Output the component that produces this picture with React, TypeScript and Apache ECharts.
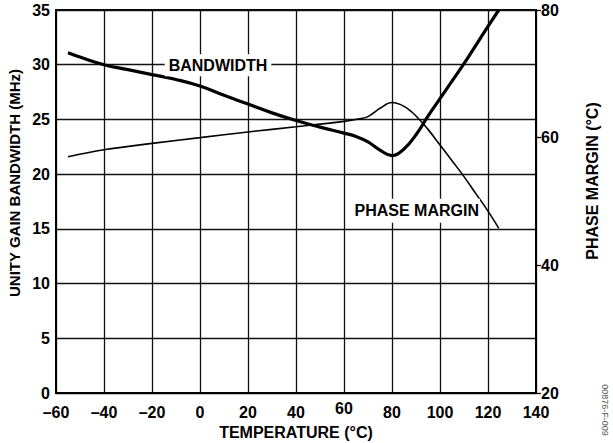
import React, { useEffect, useRef } from "react";
import * as echarts from "echarts";

const bwTemp = [-55, -50, -40, -30, -20, -10, 0, 10, 20, 30, 40, 50, 60, 65, 70, 75, 80, 85, 90, 95, 100, 105, 110, 115, 120, 124.5];
const bwValues = [31.1, 30.7, 30.0, 29.55, 29.1, 28.65, 28.05, 27.2, 26.4, 25.6, 24.9, 24.3, 23.75, 23.45, 22.95, 22.2, 21.7, 22.3, 23.6, 25.3, 26.9, 28.5, 30.1, 31.8, 33.5, 35.0];

const pmTemp = [-55, -40, -20, 0, 20, 40, 60, 65, 70, 75, 80, 85, 90, 95, 100, 105, 110, 115, 120, 124.5];
const pmValues = [57.0, 58.1, 59.1, 60.0, 60.9, 61.7, 62.55, 62.85, 63.3, 64.6, 65.5, 64.9, 63.4, 61.3, 58.85, 56.4, 53.9, 51.2, 48.5, 45.8];

const xTicks = { min: -60, max: 140, step: 20 };
const leftTicks = { min: 0, max: 35, step: 5 };
const rightTicks = { min: 20, max: 80, step: 20 };

const labelBandwidth = { text: "BANDWIDTH", x: 7.5, y: 29.95, pad: [3, 4, 3, 4] };
const labelPhase = { text: "PHASE MARGIN", x: 90.1, y: 16.65, pad: [4, 1, 4, 2] };

const FONT = "'Liberation Sans', Arial, Helvetica, sans-serif";

export default function App() {
  const ref = useRef<HTMLDivElement>(null);
  useEffect(() => {
    if (!ref.current) return;
    const chart = echarts.init(ref.current, null, { renderer: "svg" });
    const tickText = { fontFamily: FONT, fontWeight: "bold" as const, fontSize: 16, color: "#000" };
    const annot = (l: { text: string; x: number; y: number; pad: number[] }) => ({
      coord: [l.x, l.y],
      symbol: "circle",
      symbolSize: 0,
      label: {
        show: true,
        position: "inside",
        formatter: l.text,
        fontFamily: FONT,
        fontWeight: "bold",
        fontSize: 16,
        color: "#000",
        backgroundColor: "#fff",
        padding: l.pad,
      },
    });
    chart.setOption({
      animation: false,
      backgroundColor: "#fff",
      grid: { left: 56, right: 77, top: 10, bottom: 50, show: true, borderColor: "#000", borderWidth: 2, backgroundColor: "transparent" },
      xAxis: {
        type: "value",
        min: xTicks.min,
        max: xTicks.max,
        interval: xTicks.step,
        axisLine: { show: true, onZero: false, lineStyle: { color: "#000", width: 2 } },
        axisTick: { show: false },
        axisLabel: {
          ...tickText,
          margin: 11,
          formatter: (v: number) => (v === 60 ? "{r|60}" : String(v).replace("-", "\u2013")),
          rich: { r: { fontFamily: FONT, fontWeight: "bold", fontSize: 16, color: "#000", lineHeight: 9 } },
        },
        splitLine: { show: true, lineStyle: { color: "#111", width: 1.3 } },
      },
      yAxis: [
        {
          type: "value",
          min: leftTicks.min,
          max: leftTicks.max,
          interval: leftTicks.step,
          axisLine: { show: true, onZero: false, lineStyle: { color: "#000", width: 2 } },
          axisTick: { show: false },
          axisLabel: { ...tickText, margin: 6 },
          splitLine: { show: true, lineStyle: { color: "#111", width: 1.3 } },
        },
        {
          type: "value",
          position: "right",
          min: rightTicks.min,
          max: rightTicks.max,
          interval: rightTicks.step,
          axisLine: { show: true, onZero: false, lineStyle: { color: "#000", width: 2 } },
          axisTick: { show: true, length: 5, lineStyle: { color: "#000", width: 1.3 } },
          axisLabel: { ...tickText, margin: 5 },
          splitLine: { show: false },
        },
      ],
      series: [
        {
          type: "line",
          yAxisIndex: 1,
          data: pmTemp.map((t, i) => [t, pmValues[i]]),
          smooth: 0.4,
          symbol: "none",
          lineStyle: { color: "#000", width: 1.6 },
        },
        {
          type: "line",
          yAxisIndex: 0,
          data: bwTemp.map((t, i) => [t, bwValues[i]]),
          smooth: 0.45,
          symbol: "none",
          lineStyle: { color: "#000", width: 3.2 },
          markPoint: { silent: true, data: [annot(labelBandwidth), annot(labelPhase)] },
        },
      ],
      graphic: [
        {
          type: "text",
          x: 14,
          y: 183,
          rotation: Math.PI / 2,
          style: { text: "UNITY GAIN BANDWIDTH (MHz)", font: `bold 15px ${FONT}`, fill: "#000", align: "center", verticalAlign: "middle" },
        },
        {
          type: "text",
          x: 592,
          y: 181,
          rotation: Math.PI / 2,
          style: { text: "PHASE MARGIN (\u00B0C)", font: `bold 16px ${FONT}`, fill: "#000", align: "center", verticalAlign: "middle" },
        },
        {
          type: "text",
          x: 296,
          y: 432,
          style: { text: "TEMPERATURE (\u00B0C)", font: `bold 16px ${FONT}`, fill: "#000", align: "center", verticalAlign: "middle" },
        },
        {
          type: "text",
          x: 605,
          y: 410,
          rotation: -Math.PI / 2,
          style: { text: "00876-F-009", font: `9px ${FONT}`, fill: "#555", align: "center", verticalAlign: "middle" },
        },
      ],
    });
    return () => chart.dispose();
  }, []);
  return <div ref={ref} style={{ width: 613, height: 443, position: "absolute", left: 0, top: 0 }} />;
}
